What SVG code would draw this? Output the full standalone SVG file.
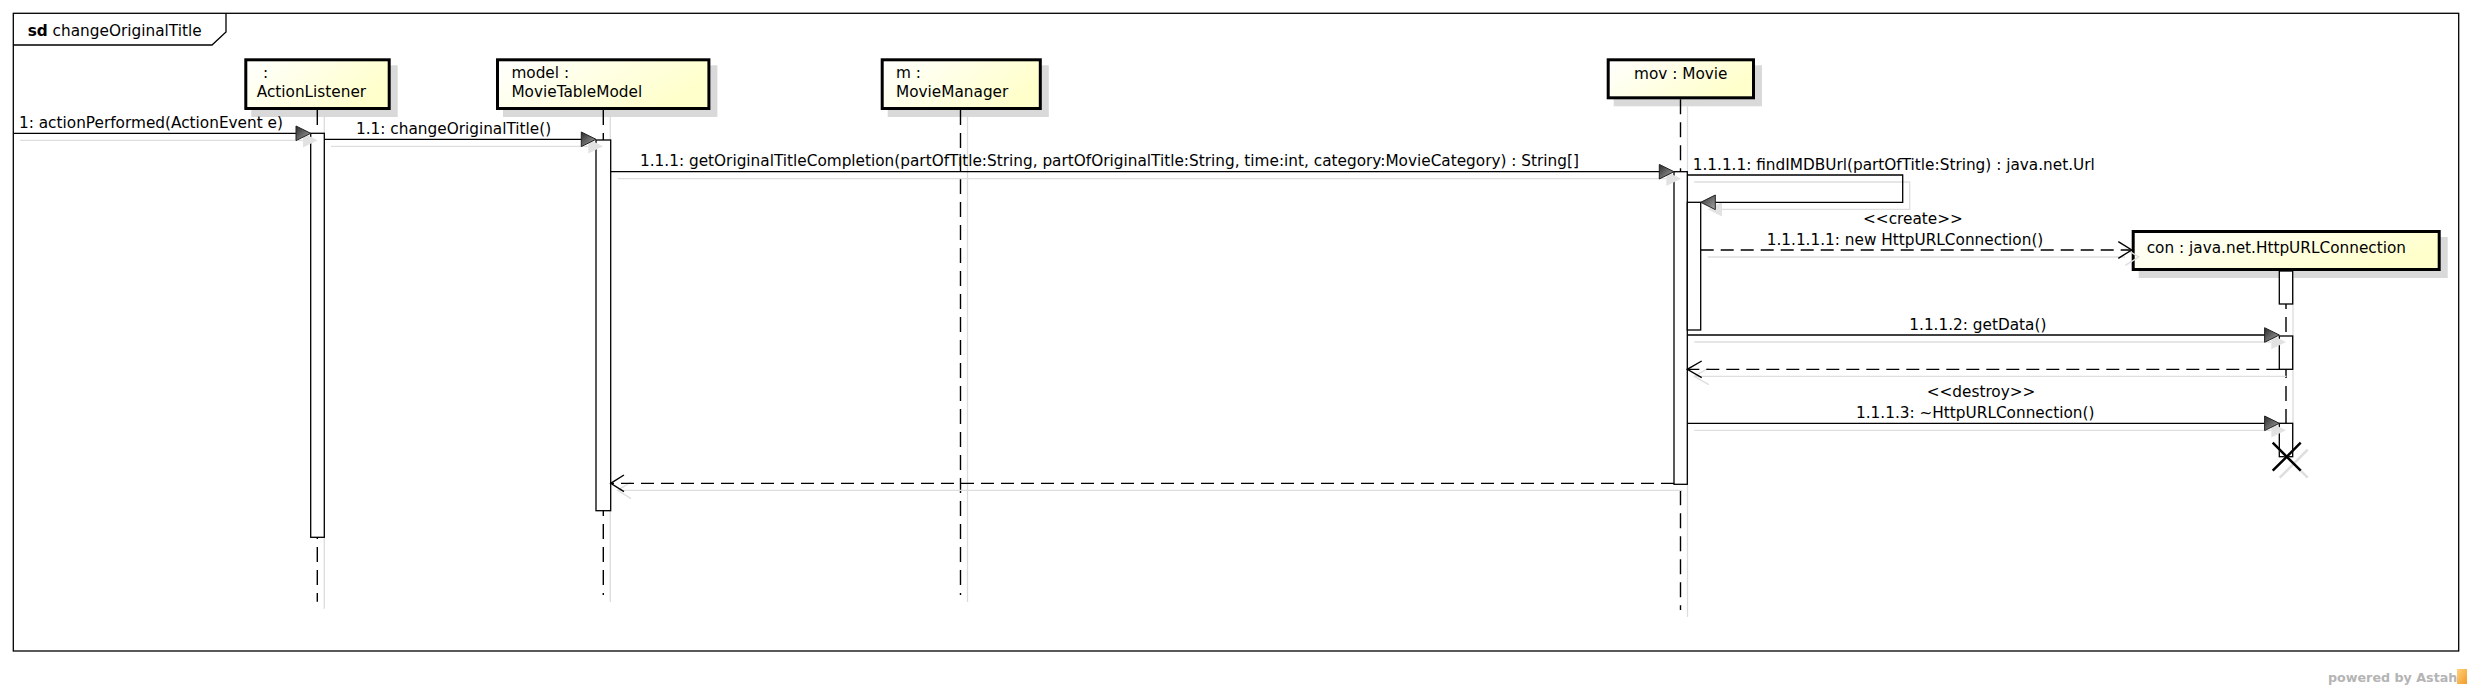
<svg xmlns="http://www.w3.org/2000/svg" width="2472" height="690" viewBox="0 0 2472 690">
<style>
text{font-family:"DejaVu Sans","Liberation Sans",sans-serif;font-size:15.3px;fill:#000}
.frame{fill:none;stroke:#000;stroke-width:1.3}
.box{stroke:#000;stroke-width:3;fill:url(#nodeFill)}
.shadow{fill:#d9d9d9;stroke:none}
.life{stroke:#000;stroke-width:1.4;stroke-dasharray:15 8;fill:none}
.lifesh{stroke:#dcdcdc;stroke-width:1.3;fill:none}
.act{fill:#fff;stroke:#000;stroke-width:1.3}
.msg{stroke:#000;stroke-width:1.3;fill:none}
.dmsg{stroke:#000;stroke-width:1.3;fill:none;stroke-dasharray:13 7}
.msh{stroke:#dedede;stroke-width:1.3;fill:none}
.head{fill:url(#headFill);stroke:#222;stroke-width:1}
.headsh{fill:#e2e2e2;stroke:none}
.open{stroke:#000;stroke-width:1.4;fill:none}
.opensh{stroke:#dedede;stroke-width:1.4;fill:none}
</style>
<defs>
<linearGradient id="nodeFill" x1="0" y1="0" x2="1" y2="0.4">
<stop offset="0" stop-color="#ffffff"/>
<stop offset="1" stop-color="#ffffcc"/>
</linearGradient>
<linearGradient id="headFill" x1="0" y1="0" x2="1" y2="1">
<stop offset="0" stop-color="#2a2a2a"/>
<stop offset="1" stop-color="#a8a8a8"/>
</linearGradient>
<linearGradient id="logoFill" x1="0" y1="0" x2="1" y2="1">
<stop offset="0" stop-color="#ffd27a"/>
<stop offset="1" stop-color="#f39a2a"/>
</linearGradient>
</defs>

<g id="frame">
<rect class="frame" x="13.3" y="13.3" width="2445.4" height="637.7"/>
<path class="frame" d="M13.3,45 L212,45 L226,32 L226,13.3"/>
<text x="27.7" y="36"><tspan font-weight="bold">sd</tspan> changeOriginalTitle</text>
</g>

<g id="lifeline-actionlistener">
<rect class="shadow" x="251.3" y="65.3" width="146.4" height="51.7"/>
<rect class="box" x="245.8" y="59.8" width="143.4" height="48.7"/>
<text x="263" y="78">:</text>
<text x="256.7" y="97">ActionListener</text>
<line class="lifesh" x1="324.3" y1="117" x2="324.3" y2="608.7"/>
<line class="life" x1="317.3" y1="110" x2="317.3" y2="601.7"/>
<rect class="act" x="310.7" y="133.3" width="13.6" height="404"/>
</g>

<g id="lifeline-model">
<rect class="shadow" x="503" y="65.3" width="214.4" height="51.7"/>
<rect class="box" x="497.5" y="59.8" width="211.4" height="48.7"/>
<text x="511.4" y="78">model :</text>
<text x="511.4" y="97">MovieTableModel</text>
<line class="lifesh" x1="610.3" y1="117" x2="610.3" y2="602"/>
<line class="life" x1="603.3" y1="110" x2="603.3" y2="595"/>
<rect class="act" x="596" y="140" width="14.7" height="370.7"/>
</g>

<g id="lifeline-moviemanager">
<rect class="shadow" x="887.7" y="65.3" width="161.1" height="51.7"/>
<rect class="box" x="882.2" y="59.8" width="158.1" height="48.7"/>
<text x="896" y="78">m :</text>
<text x="896" y="97">MovieManager</text>
<line class="lifesh" x1="967.5" y1="117" x2="967.5" y2="602"/>
<line class="life" x1="960.5" y1="110" x2="960.5" y2="595"/>
</g>

<g id="lifeline-movie">
<rect class="shadow" x="1613.7" y="65.3" width="148.3" height="41"/>
<rect class="box" x="1608.2" y="59.8" width="145.3" height="38"/>
<text x="1680.8" y="79" text-anchor="middle">mov : Movie</text>
<line class="lifesh" x1="1687.5" y1="106.3" x2="1687.5" y2="617"/>
<line class="life" x1="1680.5" y1="99.3" x2="1680.5" y2="610"/>
<rect class="act" x="1674" y="171.7" width="13.3" height="312.6"/>
<rect class="act" x="1687.3" y="202.3" width="13.4" height="127.7"/>
</g>

<g id="lifeline-httpurlconnection">
<rect class="shadow" x="2138.7" y="237" width="309" height="41"/>
<rect class="box" x="2133.2" y="231.5" width="306" height="38"/>
<text x="2146.7" y="253.3">con : java.net.HttpURLConnection</text>
<line class="lifesh" x1="2293" y1="278" x2="2293" y2="440"/>
<line class="life" x1="2286" y1="271" x2="2286" y2="423.3"/>
<rect class="act" x="2279.3" y="271" width="13.4" height="33"/>
<rect class="act" x="2279.3" y="336" width="13.4" height="33.3"/>
<rect class="act" x="2279.3" y="423.3" width="13.4" height="33.4"/>
<path d="M2279.7,449.7 L2307.7,477.7 M2307.7,449.7 L2279.7,477.7" stroke="#dedede" stroke-width="2.5" fill="none"/>
<path d="M2272.7,442.7 L2300.7,470.7 M2300.7,442.7 L2272.7,470.7" stroke="#000" stroke-width="2.5" fill="none"/>
</g>

<g id="connectors">
<!-- 1: actionPerformed -->
<line class="msh" x1="20" y1="140.3" x2="303" y2="140.3"/>
<polygon class="headsh" points="303,133 317.7,140.3 303,147.6"/>
<line class="msg" x1="13.3" y1="133.3" x2="297" y2="133.3"/>
<polygon class="head" points="296,126 310.7,133.3 296,140.6"/>
<text x="19" y="128">1: actionPerformed(ActionEvent e)</text>

<!-- 1.1 -->
<line class="msh" x1="331" y1="146.3" x2="588" y2="146.3"/>
<polygon class="headsh" points="588.3,139 603,146.3 588.3,153.6"/>
<line class="msg" x1="324.3" y1="139.3" x2="582" y2="139.3"/>
<polygon class="head" points="581.3,132 596,139.3 581.3,146.6"/>
<text x="356" y="134">1.1: changeOriginalTitle()</text>

<!-- 1.1.1 -->
<line class="msh" x1="617.7" y1="178.7" x2="1666" y2="178.7"/>
<polygon class="headsh" points="1666.3,171.4 1681,178.7 1666.3,186"/>
<line class="msg" x1="610.7" y1="171.7" x2="1660" y2="171.7"/>
<polygon class="head" points="1659.3,164.4 1674,171.7 1659.3,179"/>
<text x="640" y="166">1.1.1: getOriginalTitleCompletion(partOfTitle:String, partOfOriginalTitle:String, time:int, category:MovieCategory) : String[]</text>

<!-- 1.1.1.1 self -->
<path class="msh" d="M1694.3,182 L1909.7,182 L1909.7,209.3 L1722,209.3"/>
<polygon class="headsh" points="1722,202 1707.7,209.3 1722,216.6"/>
<path class="msg" d="M1687.3,175 L1902.7,175 L1902.7,202.3 L1715,202.3"/>
<polygon class="head" points="1715.3,195 1700.7,202.3 1715.3,209.6"/>
<text x="1692.7" y="170">1.1.1.1: findIMDBUrl(partOfTitle:String) : java.net.Url</text>

<!-- create -->
<line class="msh" x1="1707.7" y1="257" x2="2125" y2="257"/>
<path class="opensh" d="M2125.3,248.7 L2138.7,257 L2125.3,265.3"/>
<line class="dmsg" x1="1700.7" y1="250" x2="2130.7" y2="250"/>
<path class="open" d="M2118.3,241.7 L2131.7,250 L2118.3,258.3"/>
<text x="1863" y="224.3">&lt;&lt;create&gt;&gt;</text>
<text x="1766.7" y="245">1.1.1.1.1: new HttpURLConnection()</text>

<!-- getData -->
<line class="msh" x1="1694.3" y1="342" x2="2271" y2="342"/>
<polygon class="headsh" points="2271.3,334.7 2286,342 2271.3,349.3"/>
<line class="msg" x1="1687.3" y1="335" x2="2265" y2="335"/>
<polygon class="head" points="2264.6,327.7 2279.3,335 2264.6,342.3"/>
<text x="1909.3" y="330">1.1.1.2: getData()</text>

<!-- return getData -->
<line class="msh" x1="2286.3" y1="376.3" x2="1696" y2="376.3"/>
<path class="opensh" d="M1708.7,368 L1694.3,376.3 L1708.7,384.6"/>
<line class="dmsg" x1="2279.3" y1="369.3" x2="1688.3" y2="369.3"/>
<path class="open" d="M1701.7,361 L1687.3,369.3 L1701.7,377.6"/>

<!-- destroy -->
<line class="msh" x1="1694.3" y1="430.3" x2="2271" y2="430.3"/>
<polygon class="headsh" points="2271.3,423 2286,430.3 2271.3,437.6"/>
<line class="msg" x1="1687.3" y1="423.3" x2="2265" y2="423.3"/>
<polygon class="head" points="2264.6,416 2279.3,423.3 2264.6,430.6"/>
<text x="1926.7" y="396.7">&lt;&lt;destroy&gt;&gt;</text>
<text x="1856" y="418.3">1.1.1.3: ~HttpURLConnection()</text>

<!-- return to model -->
<line class="msh" x1="1681" y1="490.3" x2="619" y2="490.3"/>
<path class="opensh" d="M631,482 L617.7,490.3 L631,498.6"/>
<line class="dmsg" x1="1674" y1="483.3" x2="611.7" y2="483.3"/>
<path class="open" d="M624,475 L610.7,483.3 L624,491.6"/>
</g>

<g id="logo">
<text x="2328" y="681.7" font-weight="bold" font-size="12.7" fill="#b4b4b4" style="fill:#b4b4b4;font-size:12.7px">powered by Astah</text>
<rect x="2457" y="669" width="10" height="15" fill="url(#logoFill)"/>
</g>
</svg>
